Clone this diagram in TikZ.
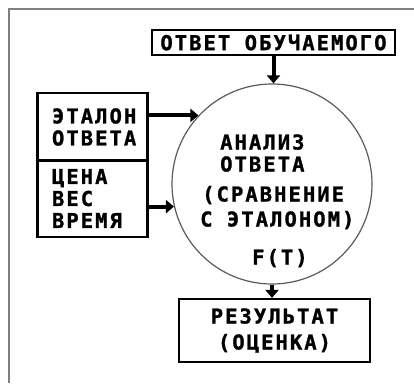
\documentclass[tikz,border=0pt]{standalone}
\usepackage{fontspec}
\usetikzlibrary{arrows.meta}
% heavy blocky monospaced capitals, spaced out a little
\newfontfamily\pix{DejaVu Sans Mono}[UprightFont={* Bold}, LetterSpace=10, FakeBold=1.2]
\begin{document}
\begin{tikzpicture}[x=1pt,y=-1pt,
  txt/.style={font=\pix\fontsize{20.5}{22}\selectfont, inner sep=0pt},
  line/.style={txt, anchor=west, text height=15pt, text depth=0pt},
  box/.style={draw, line width=2.2pt, inner sep=0pt},
  frame/.style={draw=black!50, line width=2pt},
  arr/.style={line width=4pt, -{Triangle[width=13pt,length=8pt]}}
]
\useasboundingbox (0,0) rectangle (414,383);
% window border (top and left edges)
\draw[frame] (9,383) -- (9,9) -- (414,9);

% learner's answer
\node[box, txt, minimum width=243pt, minimum height=25pt] (ans) at (273.5,42.5) {ОТВЕТ ОБУЧАЕМОГО};

% reference data block
\node[box, txt, minimum width=110pt, minimum height=68pt, align=left, text width=81pt] (et) at (92.5,127) {ЭТАЛОН\\ОТВЕТА};
\node[box, txt, minimum width=110pt, minimum height=77pt, align=left, text width=81pt] (cena) at (92.5,198.5) {ЦЕНА\\ВЕС\\ВРЕМЯ};

% analysis
\node[draw=black!65, line width=1.2pt, circle, minimum size=200pt, inner sep=0pt] (circ) at (272,184) {};
\node[line] (c1) at (220,142) {АНАЛИЗ};
\node[line] (c2) at (220,164) {ОТВЕТА};
\node[line] (c3) at (202,194) {(СРАВНЕНИЕ};
\node[line] (c4) at (200,219) {С ЭТАЛОНОМ)};
\node[line] (c5) at (252,257) {F(T)};

% result
\node[box, txt, minimum width=191pt, minimum height=63pt, align=center] (res) at (274.5,330.5) {РЕЗУЛЬТАТ\\[4pt](ОЦЕНКА)};

% connectors
\draw[arr] (ans.south) -- (ans.south |- circ.north);
\draw[arr] (et.east |- circ.137) -- (circ.137);
\draw[arr] (cena.east |- circ.193) -- (circ.193);
\draw[arr] (circ.south) -- (circ.south |- res.north);
\end{tikzpicture}
\end{document}
